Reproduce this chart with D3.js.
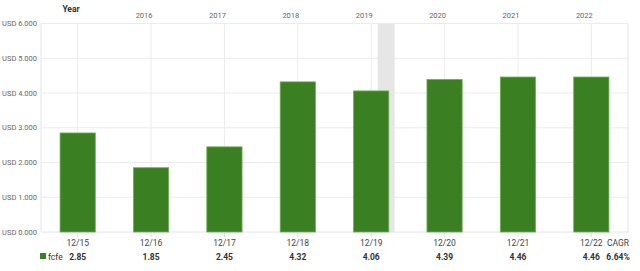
<!DOCTYPE html>
<html>
<head>
<meta charset="utf-8">
<script src="https://cdn.jsdelivr.net/npm/d3@7"></script>
<style>
body { margin:0; background:#fff; font-family: Roboto, "Noto Sans", sans-serif; }
</style>
</head>
<body>
<div class="visualisation"></div>
<script>
var periods = ["12/15","12/16","12/17","12/18","12/19","12/20","12/21","12/22"];
var years = ["", "2016","2017","2018","2019","2020","2021","2022"];
var fcfe = [2.85, 1.85, 2.45, 4.32, 4.06, 4.39, 4.46, 4.46];
var yTicks = [0, 1, 2, 3, 4, 5, 6];
var cagr = "6.64%";

var margin = {top:23.5, right:12, bottom:39, left:41},
	width = 640 - margin.left - margin.right,
	height = 271 - margin.top - margin.bottom;

var svg = d3.select(".visualisation").append("svg")
    .attr("width", 640)
    .attr("height", 271)
  .append("g")
    .attr("transform", "translate(" + margin.left + "," + margin.top + ")");

var x = d3.scaleBand().domain(periods).range([0, width]).paddingInner(0.52).paddingOuter(0.26);
var y = d3.scaleLinear().domain([0, 6]).range([height, 0]);

// grid
svg.append("g").selectAll("line").data(yTicks).enter().append("line")
	.attr("x1", 0).attr("x2", width)
	.attr("y1", d => y(d)).attr("y2", d => y(d))
	.attr("stroke", d => d === 0 ? "#e2e4ec" : "#ececf0");
svg.append("g").selectAll("line").data(periods).enter().append("line")
	.attr("x1", d => x(d) + x.bandwidth()/2).attr("x2", d => x(d) + x.bandwidth()/2)
	.attr("y1", 0).attr("y2", height)
	.attr("stroke", "#ececf0");
svg.append("line").attr("x1", 0).attr("x2", 0).attr("y1", 0).attr("y2", height).attr("stroke", "#e2e4ec");
svg.append("line").attr("x1", width).attr("x2", width).attr("y1", 0).attr("y2", height).attr("stroke", "#e2e4ec");

// shaded marker behind the 12/19 bar's right edge
var s0 = x("12/19") + x.bandwidth()/2 + 6.5;
svg.append("rect")
	.attr("x", s0).attr("y", 0)
	.attr("width", 17)
	.attr("height", height)
	.attr("fill", "#e6e6e6");

// bars
svg.append("g").selectAll("rect").data(fcfe).enter().append("rect")
	.attr("x", (d, i) => x(periods[i]))
	.attr("y", d => y(d))
	.attr("width", x.bandwidth())
	.attr("height", d => height - y(d))
	.attr("fill", "#3a7f22")
	.attr("stroke", "#6fae52")
	.attr("stroke-width", 0.8);

// y axis labels
svg.append("g").selectAll("text").data(yTicks).enter().append("text")
	.attr("x", -4).attr("y", d => y(d)).attr("dy", "0.35em")
	.attr("text-anchor", "end")
	.attr("font-size", 7.5).attr("fill", "#666")
	.text(d => "USD " + d3.format(".3f")(d));

// bottom ticks
svg.append("g").selectAll("line").data(periods).enter().append("line")
	.attr("x1", d => x(d) + x.bandwidth()/2).attr("x2", d => x(d) + x.bandwidth()/2)
	.attr("y1", height + 1).attr("y2", height + 5)
	.attr("stroke", "#dcdce4");

// period labels
svg.append("g").selectAll("text").data(periods).enter().append("text")
	.attr("x", d => x(d) + x.bandwidth()/2).attr("y", height + 14)
	.attr("text-anchor", "middle")
	.attr("font-size", 8.5).attr("fill", "#444")
	.text(d => d);

// values
svg.append("g").selectAll("text").data(fcfe).enter().append("text")
	.attr("x", (d, i) => x(periods[i]) + x.bandwidth()/2).attr("y", height + 28)
	.attr("text-anchor", "middle")
	.attr("font-size", 8.5).attr("font-weight", "bold").attr("fill", "#333")
	.text(d => d3.format(".2f")(d));

svg.append("text").attr("x", width - 10).attr("y", height + 14)
	.attr("text-anchor", "middle").attr("font-size", 8.5).attr("fill", "#444").text("CAGR");
svg.append("text").attr("x", width - 10).attr("y", height + 28)
	.attr("text-anchor", "middle").attr("font-size", 8.5).attr("font-weight", "bold").attr("fill", "#333").text(cagr);

// legend
svg.append("rect").attr("x", -1).attr("y", height + 21).attr("width", 6).attr("height", 6).attr("fill", "#3a7f22");
svg.append("text").attr("x", 7).attr("y", height + 28)
	.attr("font-size", 8.5).attr("fill", "#333").text("fcfe");

// top year labels
svg.append("text").attr("x", 30).attr("y", -12)
	.attr("text-anchor", "middle").attr("font-size", 8.5).attr("font-weight", "bold").attr("fill", "#333").text("Year");
svg.append("g").selectAll("text").data(years).enter().append("text")
	.attr("x", (d, i) => x(periods[i]) + x.bandwidth()/2 - 7).attr("y", -6)
	.attr("text-anchor", "middle")
	.attr("font-size", 7.5).attr("fill", "#666")
	.text(d => d);
</script>
</body>
</html>
